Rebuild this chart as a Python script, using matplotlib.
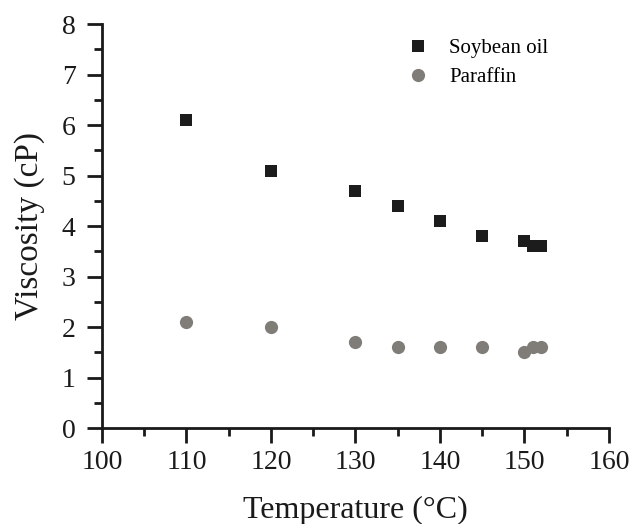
import matplotlib
matplotlib.use('Agg')
import matplotlib.pyplot as plt
from matplotlib.ticker import MultipleLocator

plt.rcParams['font.family'] = ['Liberation Serif', 'DejaVu Serif']

# viscosity vs temperature
temp_soy = [110, 120, 130, 135, 140, 145, 150, 151, 152]
visc_soy = [6.1, 5.1, 4.7, 4.4, 4.1, 3.8, 3.7, 3.6, 3.6]
temp_par = [110, 120, 130, 135, 140, 145, 150, 151, 152]
visc_par = [2.1, 2.0, 1.7, 1.6, 1.6, 1.6, 1.5, 1.6, 1.6]

fig = plt.figure(figsize=(6.31, 5.24), dpi=100)
ax = fig.add_axes([0.1616, 0.183, 0.8034, 0.771])

ax.plot(temp_soy, visc_soy, 's', color='#1c1c1c', ms=8, mew=0, label='Soybean oil')
ax.plot(temp_par, visc_par, 'o', color='#807c78', ms=9.5, mew=0, label='Paraffin')

ax.set_xlim(100, 160)
ax.set_ylim(0, 8)
ax.xaxis.set_major_locator(MultipleLocator(10))
ax.xaxis.set_minor_locator(MultipleLocator(5))
ax.yaxis.set_major_locator(MultipleLocator(1))
ax.yaxis.set_minor_locator(MultipleLocator(0.5))

for s in ['top', 'right']:
    ax.spines[s].set_visible(False)
for s in ['left', 'bottom']:
    ax.spines[s].set_linewidth(2)
    ax.spines[s].set_color('#1a1a1a')

ax.tick_params(which='major', direction='out', length=11, width=2, labelsize=20,
               color='#1a1a1a', labelcolor='#1a1a1a')
ax.tick_params(which='minor', direction='out', length=6, width=2, color='#1a1a1a')
ax.tick_params(axis='y', which='major', pad=8)
ax.tick_params(axis='x', which='major', pad=5)

ax.set_xlabel('Temperature (°C)', fontsize=23, color='#1a1a1a', labelpad=15)
ax.set_ylabel('Viscosity (cP)', fontsize=24, color='#1a1a1a', labelpad=12)

ax.legend(loc='upper left', bbox_to_anchor=(0.545, 1.01), frameon=False, fontsize=15,
          handletextpad=0.5, labelspacing=0.45, markerscale=1.0)

fig.savefig('out.png', dpi=100)
